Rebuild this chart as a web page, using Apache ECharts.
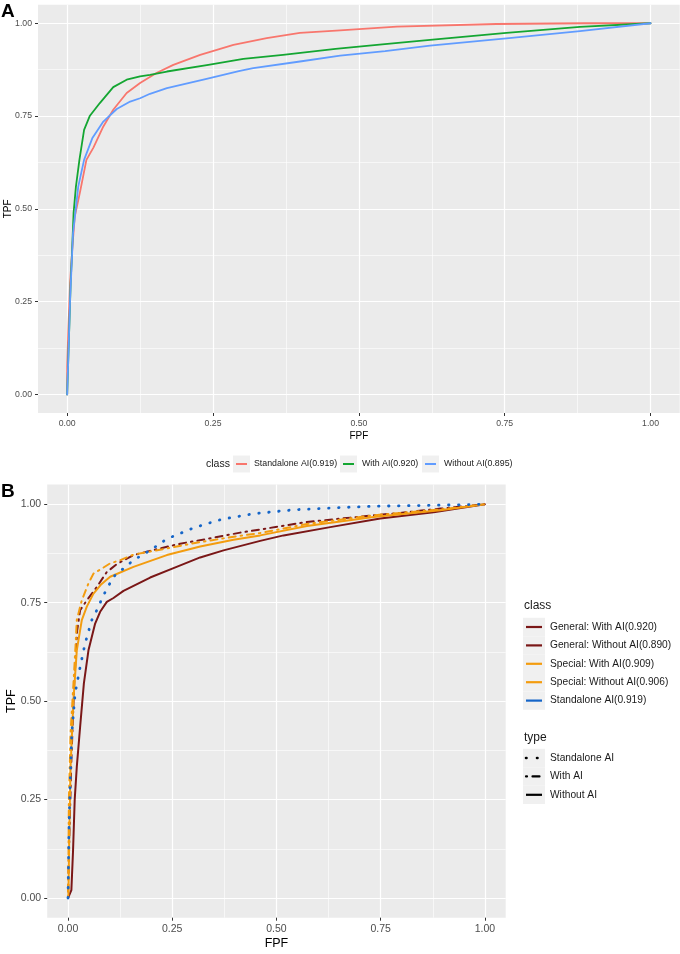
<!DOCTYPE html>
<html><head><meta charset="utf-8">
<script src="https://cdn.jsdelivr.net/npm/echarts@6/dist/echarts.min.js"></script>
<style>html,body{margin:0;padding:0;background:#fff}#c{width:680px;height:954px}</style>
</head><body><div id="c"></div>
<script>
// ---------- tick values ----------
const majorTicks = [0, 0.25, 0.5, 0.75, 1];
const minorTicks = [0.125, 0.375, 0.625, 0.875];
const tickLabels = ['0.00', '0.25', '0.50', '0.75', '1.00'];

// ---------- Panel A data: [FPF, TPF] ----------
const standaloneA = [[0,0],[0.000,0.075],[0.002,0.174],[0.005,0.300],[0.009,0.398],[0.013,0.479],[0.022,0.545],[0.033,0.632],[0.045,0.665],[0.062,0.722],[0.079,0.767],[0.102,0.812],[0.125,0.839],[0.153,0.866],[0.182,0.888],[0.228,0.915],[0.285,0.942],[0.342,0.960],[0.399,0.974],[0.468,0.981],[0.565,0.991],[0.736,0.998],[0.885,1.0],[1,1]];
const withAIA = [[0,0],[0.003,0.150],[0.006,0.300],[0.008,0.371],[0.011,0.489],[0.015,0.560],[0.021,0.632],[0.029,0.713],[0.039,0.751],[0.056,0.785],[0.079,0.828],[0.102,0.848],[0.125,0.857],[0.142,0.861],[0.171,0.870],[0.242,0.888],[0.302,0.904],[0.370,0.915],[0.460,0.931],[0.540,0.943],[0.622,0.955],[0.753,0.974],[0.879,0.990],[1,1]];
const withoutAIA = [[0,0],[0.002,0.100],[0.005,0.255],[0.010,0.434],[0.019,0.560],[0.029,0.632],[0.043,0.690],[0.062,0.735],[0.085,0.769],[0.108,0.789],[0.125,0.798],[0.142,0.810],[0.171,0.825],[0.239,0.850],[0.296,0.872],[0.319,0.879],[0.399,0.897],[0.468,0.913],[0.545,0.925],[0.622,0.940],[0.753,0.959],[0.879,0.979],[1,1]];

// ---------- Panel B data: [FPF, TPF] ----------
const generalWithB = [[0,0],[0.003,0.150],[0.008,0.350],[0.015,0.550],[0.022,0.680],[0.029,0.731],[0.045,0.756],[0.069,0.790],[0.093,0.828],[0.117,0.848],[0.141,0.862],[0.157,0.871],[0.205,0.884],[0.269,0.900],[0.333,0.912],[0.413,0.928],[0.461,0.936],[0.573,0.955],[0.733,0.972],[0.797,0.978],[0.893,0.989],[1,1]];
const generalWithoutB = [[0,0],[0.008,0.020],[0.012,0.120],[0.016,0.250],[0.021,0.333],[0.029,0.435],[0.038,0.545],[0.049,0.629],[0.065,0.697],[0.077,0.727],[0.093,0.752],[0.109,0.762],[0.133,0.780],[0.197,0.814],[0.253,0.838],[0.317,0.865],[0.373,0.883],[0.461,0.907],[0.517,0.921],[0.629,0.942],[0.749,0.964],[0.877,0.980],[1,1]];
const specialWithB = [[0,0],[0.001,0.100],[0.002,0.249],[0.006,0.418],[0.013,0.545],[0.018,0.640],[0.021,0.706],[0.033,0.756],[0.049,0.799],[0.061,0.824],[0.077,0.834],[0.101,0.850],[0.125,0.858],[0.157,0.872],[0.237,0.888],[0.317,0.904],[0.413,0.920],[0.461,0.927],[0.573,0.950],[0.733,0.972],[0.893,0.987],[1,1]];
const specialWithoutB = [[0,0],[0.001,0.012],[0.003,0.164],[0.006,0.333],[0.013,0.503],[0.021,0.629],[0.033,0.706],[0.045,0.740],[0.061,0.773],[0.080,0.797],[0.101,0.816],[0.157,0.841],[0.237,0.871],[0.317,0.893],[0.397,0.910],[0.461,0.921],[0.573,0.945],[0.733,0.968],[0.893,0.985],[1,1]];
const standaloneB = [[0,0],[0.001,0.003],[0.002,0.165],[0.005,0.292],[0.009,0.418],[0.017,0.520],[0.029,0.587],[0.041,0.647],[0.057,0.706],[0.069,0.731],[0.085,0.769],[0.109,0.816],[0.157,0.858],[0.197,0.883],[0.237,0.912],[0.301,0.940],[0.369,0.962],[0.445,0.976],[0.541,0.986],[0.637,0.991],[0.733,0.995],[0.853,0.997],[1,1]];

// ---------- legend labels ----------
const classNamesA = ['Standalone AI(0.919)', 'With AI(0.920)', 'Without AI(0.895)'];
const classNamesB = ['General: With AI(0.920)', 'General: Without AI(0.890)', 'Special: With AI(0.909)', 'Special: Without AI(0.906)', 'Standalone AI(0.919)'];
const typeNamesB = ['Standalone AI', 'With AI', 'Without AI'];

// ---------- styles ----------
const FONT = '"Liberation Sans", Arial, Helvetica, sans-serif';
const colA = ['#F8766D', '#14A632', '#619CFF'];
const MAROON = '#7A1717', ORANGE = '#F39C0F', BLUE = '#1565C8';
const colB = [MAROON, MAROON, ORANGE, ORANGE, BLUE];
const DOT = [0.5, 9.5], DOTDASH = [1.5, 5, 7, 5];
const dashB = [DOTDASH, 'solid', DOTDASH, 'solid', DOT];
const widthB = [2, 2, 2, 2, 2.8];

function fmt(v) { const i = majorTicks.indexOf(Math.round(v * 1000) / 1000); return i >= 0 ? tickLabels[i] : ''; }

function majorAxis(grid, isX, fs, margin, name, nameFs, nameGap) {
  return {
    type: 'value', gridIndex: grid, min: -0.05, max: 1.05,
    position: isX ? 'bottom' : 'left',
    axisLine: { show: false, onZero: false },
    axisTick: { show: true, length: 3, customValues: majorTicks, lineStyle: { color: '#333', width: 1 } },
    axisLabel: { show: true, customValues: majorTicks, formatter: fmt, color: '#4D4D4D', fontSize: fs, fontFamily: FONT, margin: margin },
    splitLine: { show: true, lineStyle: { color: '#FFFFFF', width: 1.2 } },
    name: name, nameLocation: 'middle', nameGap: nameGap, nameMoveOverlap: isX,
    nameTextStyle: { color: '#000', fontSize: nameFs, fontFamily: FONT }
  };
}
function minorAxis(grid, isX) {
  return {
    type: 'value', gridIndex: grid, min: -0.05, max: 1.05,
    position: isX ? 'bottom' : 'left',
    axisLine: { show: false, onZero: false },
    axisTick: { show: false, customValues: minorTicks },
    axisLabel: { show: false, customValues: minorTicks },
    splitLine: { show: true, lineStyle: { color: '#FFFFFF', width: 0.6 } }
  };
}

const seriesA = [standaloneA, withAIA, withoutAIA].map((d, i) => ({
  type: 'line', name: classNamesA[i], data: d, xAxisIndex: 0, yAxisIndex: 0,
  showSymbol: false, symbol: 'none', animation: false, z: 3 + i,
  lineStyle: { color: colA[i], width: 1.8, join: 'round', cap: 'round' }
}));
const seriesB = [generalWithB, generalWithoutB, specialWithB, specialWithoutB, standaloneB].map((d, i) => ({
  type: 'line', name: classNamesB[i], data: d, xAxisIndex: 2, yAxisIndex: 2,
  showSymbol: false, symbol: 'none', animation: false, z: 3 + i,
  lineStyle: { color: colB[i], width: widthB[i], type: dashB[i], join: 'round', cap: dashB[i] === 'solid' ? 'butt' : 'round' }
}));

// ---------- legends as graphic ----------
const g = [];
function textAt(x, y, s, fs, bold, color) {
  g.push({ type: 'text', x: x, y: y, style: { text: s, fill: color || '#1A1A1A', font: (bold ? 'bold ' : '') + fs + 'px ' + FONT, textVerticalAlign: 'middle', textAlign: 'left' } });
}
function key(x, y, w, h, color, dash, lw, cap) {
  g.push({ type: 'rect', shape: { x: x, y: y - h / 2, width: w, height: h }, style: { fill: '#F0F0F0' } });
  g.push({ type: 'line', shape: { x1: x + 3, y1: y, x2: x + w - 3, y2: y }, style: { stroke: color, lineWidth: lw, lineDash: dash, lineCap: cap || 'butt' } });
}
// panel letters
textAt(1, 12, 'A', 19, true, '#000');
textAt(1, 492, 'B', 19, true, '#000');
// legend A
textAt(206, 464, 'class', 10.5);
const keyXA = [233, 340, 422], txtXA = [254, 362, 444];
classNamesA.forEach((n, i) => { key(keyXA[i], 464, 17, 17, colA[i], null, 2); textAt(txtXA[i], 464, n, 8.8); });
// legend B class
textAt(524, 606, 'class', 12);
const rowYB = [627, 645.4, 663.8, 682.2, 700.6];
classNamesB.forEach((n, i) => { key(523, rowYB[i], 22, 18.4, colB[i], null, 2.2); textAt(550, rowYB[i], n, 10.2); });
// legend B type
textAt(524, 738, 'type', 12);
const rowYT = [758, 776.4, 794.8];
const typeDash = [[0.5, 10.5], [1, 5.5, 7, 5], null];
typeNamesB.forEach((n, i) => { key(523, rowYT[i], 22, 18.4, '#000', typeDash[i], i === 0 ? 2.6 : 2.2, i < 2 ? 'round' : 'butt'); textAt(550, rowYT[i], n, 10.2); });

const option = {
  animation: false,
  backgroundColor: '#FFFFFF',
  grid: [
    { left: 38, top: 4.7, width: 641.7, height: 408.3, show: true, backgroundColor: '#EBEBEB', borderWidth: 0, containLabel: false, outerBoundsMode: 'none' },
    { left: 47.2, top: 484.6, width: 458.5, height: 433.1, show: true, backgroundColor: '#EBEBEB', borderWidth: 0, containLabel: false, outerBoundsMode: 'none' }
  ],
  xAxis: [
    majorAxis(0, true, 8.7, 6, 'FPF', 10, 18),
    minorAxis(0, true),
    majorAxis(1, true, 10.5, 6, 'FPF', 12.5, 19),
    minorAxis(1, true)
  ],
  yAxis: [
    majorAxis(0, false, 8.7, 6, 'TPF', 10, 25),
    minorAxis(0, false),
    majorAxis(1, false, 10.5, 6, 'TPF', 12.5, 29),
    minorAxis(1, false)
  ],
  series: seriesA.concat(seriesB),
  graphic: g
};
const chart = echarts.init(document.getElementById('c'), null, { renderer: 'canvas' });
chart.setOption(option);
</script>
</body></html>
